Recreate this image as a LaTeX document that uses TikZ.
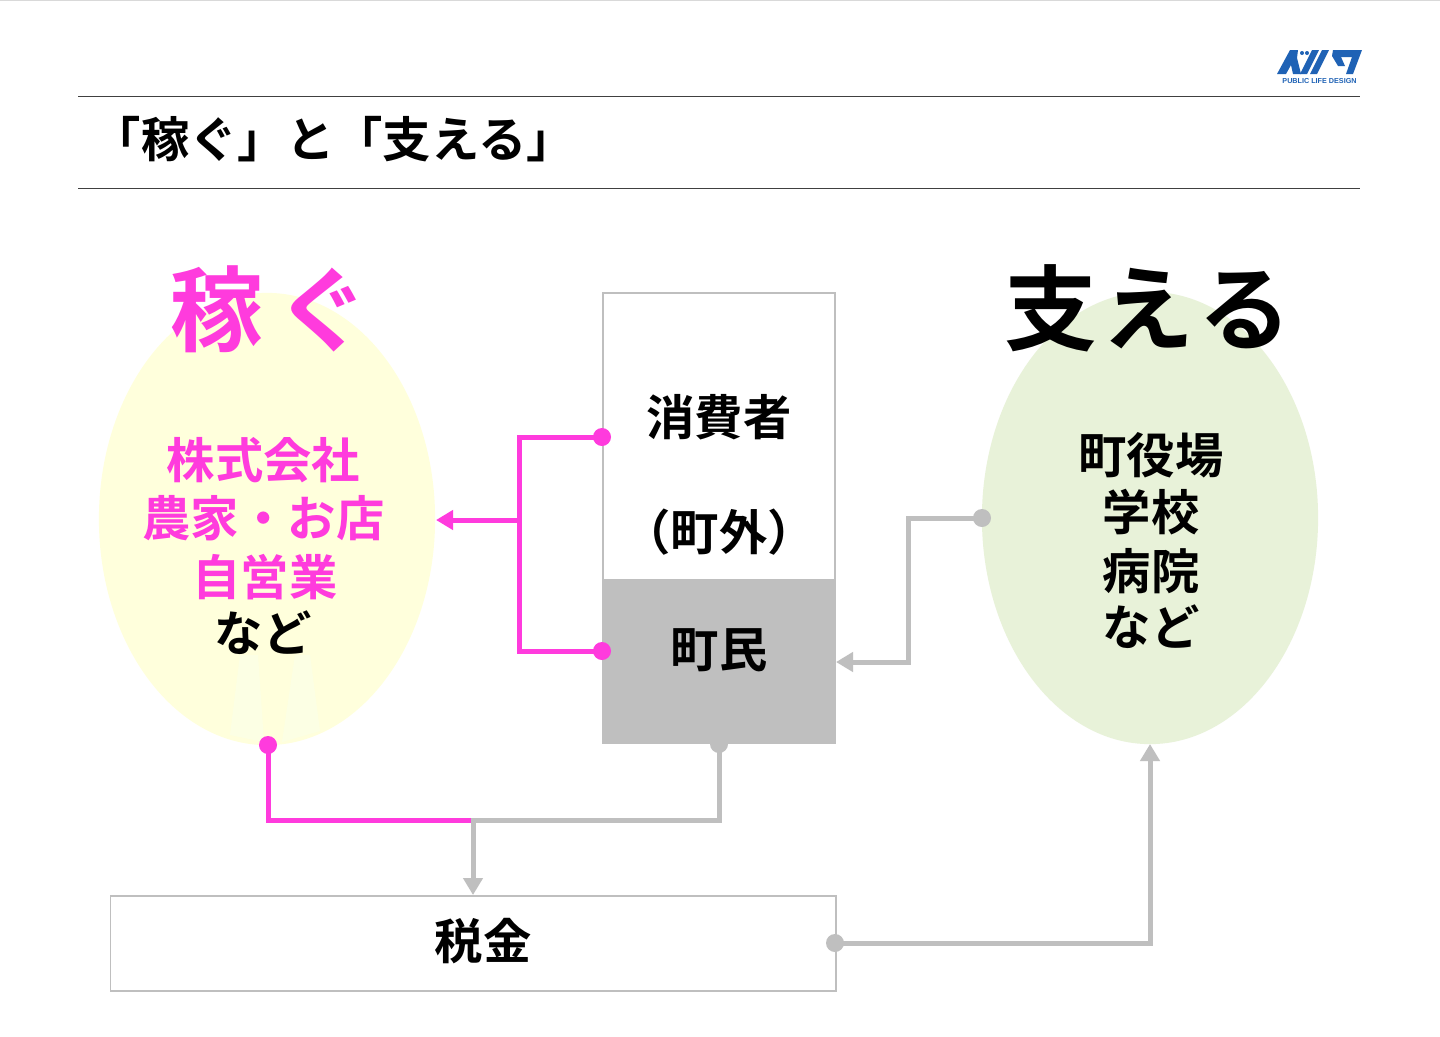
\documentclass[tikz,border=0pt]{standalone}
\usepackage{fontspec}
\setmainfont{Noto Sans CJK JP}[BoldFont={Noto Sans CJK JP Bold}]
\setsansfont{Liberation Sans}
\usetikzlibrary{arrows.meta,shapes.geometric}
\definecolor{pinkc}{HTML}{FF3BDD}
\definecolor{grayc}{HTML}{BFBFBF}
\definecolor{yellowc}{HTML}{FFFFDC}
\definecolor{greenc}{HTML}{E8F2D9}
\definecolor{logoc}{HTML}{1F62B5}
\definecolor{streakc}{HTML}{FCFFE4}
\tikzset{
  x=0.01cm,y=-0.01cm,
  txt/.style={inner sep=0,font=\bfseries\fontsize{13.75}{16.5}\selectfont,align=center},
  big/.style={inner sep=0,font=\bfseries\fontsize{26.4}{30}\selectfont},
  pinkline/.style={draw=pinkc,line width=0.05cm},
  grayline/.style={draw=grayc,line width=0.05cm},
  rule/.style={draw=black!75,line width=0.3pt},
  pinkdot/.style={circle,fill=pinkc,inner sep=0,minimum size=0.18cm},
  graydot/.style={circle,fill=grayc,inner sep=0,minimum size=0.18cm},
  logotxt/.style={inner sep=0,text=logoc,font=\sffamily\bfseries\fontsize{2.05}{2.4}\selectfont},
  tip/.style={-{Triangle[length=0.17cm,width=0.19cm]}},
}
\begin{document}
\begin{tikzpicture}
\useasboundingbox (0,0) rectangle (1440,1036);
\fill[white] (0,0) rectangle (1440,1036);
\draw[draw=black!15,line width=0.4pt] (0,0.5) -- (1440,0.5);
% rules
\coordinate (r1a) at (78,96.5); \coordinate (r1b) at (1360,96.5);
\coordinate (r2a) at (78,188.5); \coordinate (r2b) at (1360,188.5);
\draw[rule] (r1a) -- (r1b);
\draw[rule] (r2a) -- (r2b);
\node[txt,anchor=west] (title) at (92,139.5) {「稼ぐ」と「支える」};
% logo
\fill[logoc] (1277,74) -- (1290,50) -- (1298,50) -- (1297,58) -- (1301,74) -- (1293,74) -- (1291,65) -- (1286,74) -- cycle;
\fill[logoc] (1312,50) -- (1319,50) -- (1307,74) -- (1300,74) -- cycle;
\fill[logoc] (1322,50) -- (1329,50) -- (1317,74) -- (1310,74) -- cycle;
\fill[logoc] (1333,50) -- (1362,50) -- (1353,74) -- (1346,74) -- (1352,57) -- (1341,57) -- (1345,66) -- (1338,66) -- (1332,56) -- cycle;
\fill[logoc] (1302,53) circle[radius=2];
\fill[logoc] (1307,53) circle[radius=2];
\node[logotxt] (logotext) at (1319.5,81) {PUBLIC LIFE DESIGN};
% ellipses
\node[ellipse,fill=yellowc,minimum width=3.36cm,minimum height=4.52cm,inner sep=0] (kasegu) at (267,519) {};
\node[ellipse,fill=greenc,minimum width=3.36cm,minimum height=4.52cm,inner sep=0] (sasaeru) at (1150,518) {};
\fill[streakc] (240,655) -- (258,655) -- (264,742) -- (230,735) -- cycle;
\fill[streakc] (295,655) -- (310,655) -- (320,731) -- (282,742) -- cycle;
\node[big,text=pinkc] (kaseguT) at (270,309) {稼\hspace{4pt}ぐ};
\node[big] (sasaeruT) at (1148,308) {支\hspace{1.15pt}え\hspace{1.15pt}る};
% left labels
\node[txt,text=pinkc] (l1) at (263.5,460.5) {株式会社};
\node[txt,text=pinkc] (l2) at (263.5,518.5) {農家・お店};
\node[txt,text=pinkc] (l3) at (265,577) {自営業};
\node[txt] (l4) at (263,633) {など};
% right labels
\node[txt] (r1) at (1151,455) {町役場};
\node[txt] (r2) at (1151,512) {学校};
\node[txt] (r3) at (1151,571) {病院};
\node[txt] (r4) at (1151,627) {など};
% boxes
\node[draw=grayc,line width=0.55pt,fill=white,minimum width=2.32cm,minimum height=2.87cm,inner sep=0,anchor=north west] (outer) at (602,292) {};
\node[fill=grayc,minimum width=2.34cm,minimum height=1.65cm,inner sep=0,anchor=north west] (chomin) at (601.5,578.5) {};
\node[txt] (shohi) at (719,417) {消費者};
\node[txt] (chogai) at (719,532) {（町外）};
\node[txt] (choT) at (719,650) {町民};
\node[draw=grayc,line width=0.55pt,fill=white,minimum width=7.25cm,minimum height=0.95cm,inner sep=0,anchor=north west] (zei) at (109.5,895) {};
\node[txt] (zeiT) at (483,941.5) {税金};
% junctions
\coordinate (j1) at (519,520);
\coordinate (j2) at (471,820);
\coordinate (a1) at (602,437);
\coordinate (a2) at (602,651);
\coordinate (a3) at (436,520);
\coordinate (b1) at (268,745);
\coordinate (b2) at (719,744);
\coordinate (b3) at (473,895);
\coordinate (c1) at (982,518);
\coordinate (c2) at (836,662);
\coordinate (c3) at (908,662);
\coordinate (d1) at (835,943);
\coordinate (d2) at (1150,744);
\coordinate (e1) at (473,820);
% pink connectors
\draw[pinkline] (a1) -| (j1) |- (a2);
\draw[pinkline,tip] (j1) -- (a3);
\node[pinkdot] (pd1) at (a1) {};
\node[pinkdot] (pd2) at (a2) {};
\node[pinkdot] (pd3) at (b1) {};
% bottom
\draw[grayline] (b2) |- (j2);
\draw[pinkline] (b1) |- (j2);
\draw[grayline,tip] (e1) -- (b3);
\node[graydot] (gd1) at (b2) {};
% right
\draw[grayline,tip] (c1) -| (c3) -- (c2);
\node[graydot] (gd2) at (c1) {};
\draw[grayline,tip] (d1) -| (d2);
\node[graydot] (gd3) at (d1) {};
\end{tikzpicture}
\end{document}
